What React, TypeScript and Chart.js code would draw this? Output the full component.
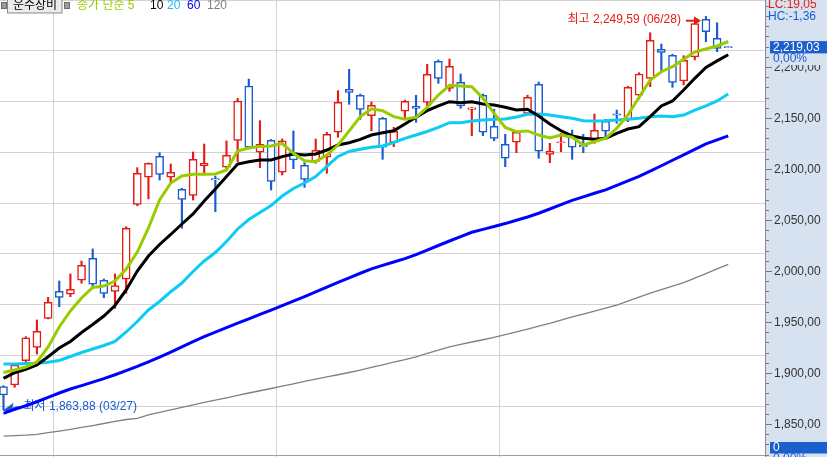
import React, { useEffect, useRef } from 'react';
import { Chart, registerables } from 'chart.js';

Chart.register(...registerables);

const W = 827;
const H = 457;

// ---- data ----
const sectorName = '운수장비';
const maPeriods = ['5', '10', '20', '60', '120'];

const opens = [1886.6, 1888.2, 1912.1, 1925.2, 1953.6, 1980.1, 1977.2, 1990.9, 2012.5, 1990.9,
  1980.1, 1991.9, 2065.4, 2091.9, 2112.5, 2091.9, 2080.1, 2074.2, 2103.2, 2090.5,
  2101.7, 2128.1, 2181.4, 2116.4, 2128.1, 2096.8, 2116, 2103.6, 2107.5, 2111.5,
  2136, 2178.1, 2172.3, 2152.3, 2149.7, 2126.2, 2156.6, 2161.5, 2165.4, 2205.6,
  2179.1, 2185, 2158.3, 2172.3, 2141.9, 2124.2, 2126.2, 2154.6, 2183, 2114.4,
  2125.8, 2131.7, 2123.2, 2128.4, 2146.8, 2154, 2148.7, 2172.3, 2188.9, 2217.4,
  2211.5, 2186.3, 2210, 2246.8, 2228.1, 2220.05];
const highs = [1887.5, 1909.5, 1935.6, 1952, 1974.2, 1990.2, 1997.1, 2009.8, 2021.6, 1992.2,
  1997.1, 2043.4, 2101.3, 2106, 2116, 2104.9, 2081.1, 2116.7, 2124.5, 2093.1,
  2127.5, 2169.3, 2188.2, 2147.4, 2129, 2129.4, 2137.3, 2106.2, 2129.4, 2136,
  2176.8, 2197.7, 2173.5, 2165.7, 2150.7, 2140.9, 2167.6, 2172.3, 2202.6, 2206.9,
  2207.8, 2193.1, 2160.4, 2173.5, 2158.5, 2134, 2137, 2172.3, 2185.3, 2125.2,
  2135, 2138.2, 2134, 2153.9, 2148.7, 2157.8, 2181, 2194.4, 2233.6, 2222.5,
  2212.5, 2211.1, 2243, 2249.59, 2243.4, 2220.05];
const lows = [1863.88, 1886, 1909.5, 1918.6, 1953, 1965, 1974.8, 1988, 1984.6, 1973.8,
  1963.4, 1978.1, 2064, 2070.6, 2089.2, 2086, 2041.9, 2069.6, 2094.1, 2058.1,
  2100, 2107.2, 2120, 2101.3, 2079.4, 2094.1, 2100.3, 2082, 2105.6, 2095.8,
  2131.1, 2163.4, 2148.7, 2137.5, 2109.5, 2121.9, 2148.7, 2145.8, 2156.2, 2184,
  2176.2, 2159.5, 2132.6, 2132.6, 2127.7, 2102.3, 2116, 2153.5, 2110.5, 2106.2,
  2117, 2109.5, 2116, 2125.2, 2130.1, 2144.8, 2146.4, 2168.6, 2180.7, 2196.4,
  2180.1, 2182.4, 2207, 2224.8, 2215, 2219.03];
const closes = [1878.4, 1907.8, 1934.6, 1940.9, 1969.3, 1974.2, 1982.1, 2005.6, 1987, 1978.1,
  1985.6, 2041.9, 2095.8, 2105.6, 2094.8, 2096.8, 2070.3, 2109.5, 2105.6, 2089.3,
  2113.4, 2166.7, 2121.3, 2124.2, 2087.9, 2127.7, 2108.8, 2089.9, 2118.3, 2134,
  2165.4, 2175.2, 2158.5, 2162.5, 2121.3, 2137, 2166.4, 2159.5, 2192.8, 2188.9,
  2200.7, 2161.8, 2160, 2136, 2130.1, 2110.5, 2136, 2170.3, 2117.4, 2117.4,
  2126.6, 2121.3, 2121.6, 2137.9, 2137, 2152.8, 2180.1, 2193.1, 2226.2, 2214.4,
  2185, 2206.6, 2242.5, 2234.6, 2218.3, 2219.03];

const ma5 = [1900.5, 1902.9, 1905.9, 1910.8, 1925.5, 1945.1, 1960.8, 1973.5, 1983.8, 1985.3,
  1990.2, 2002, 2018.6, 2042.2, 2069.6, 2086.3, 2093.1, 2094.8, 2094.8, 2095.1,
  2099, 2117.6, 2120.6, 2122.1, 2122.5, 2125, 2115.4, 2108.1, 2107.2, 2113.7,
  2123.5, 2137.3, 2151.3, 2159.1, 2157.2, 2151.3, 2148.7, 2150.7, 2160.5, 2172.5,
  2182.1, 2181.4, 2180.7, 2169.3, 2154.6, 2140.7, 2136.6, 2137.3, 2133.3, 2130.4,
  2133.3, 2131.1, 2123.5, 2126.8, 2130.1, 2139.9, 2152.9, 2170.3, 2187.3, 2195.4,
  2200.3, 2207.5, 2214.7, 2217.6, 2220.6, 2225];
const ma10 = [1894.8, 1900.3, 1903.6, 1907.8, 1916, 1924.5, 1930.9, 1939.7, 1947.5, 1955.9,
  1966.2, 1981.4, 2000, 2014.7, 2026, 2035.8, 2046.1, 2055.9, 2068.6, 2080.4,
  2092.6, 2104.9, 2107.2, 2108.8, 2108.8, 2112.1, 2114.7, 2113.7, 2114.7, 2118.6,
  2123.5, 2125.8, 2129.1, 2133.3, 2135.6, 2137.5, 2144.1, 2150.7, 2157.2, 2161.8,
  2166, 2165, 2166, 2163.7, 2162.7, 2160.5, 2157.8, 2158.5, 2152, 2144.1,
  2137.5, 2132.4, 2130.1, 2129.1, 2130.1, 2135, 2139.2, 2141.5, 2151.3, 2161.8,
  2166.7, 2177.5, 2188.9, 2199.5, 2206, 2212];
const ma20 = [1908.8, 1908.8, 1909.3, 1909.5, 1910.5, 1912.3, 1916.2, 1920.1, 1923.5, 1927,
  1930.9, 1940.2, 1950.5, 1961.8, 1970.1, 1979.7, 1988.2, 1999.5, 2009.8, 2018.1,
  2028.9, 2041.2, 2050.5, 2057.4, 2064.2, 2073.5, 2080.9, 2086.3, 2092.6, 2102.5,
  2112.3, 2117.2, 2119.3, 2121.4, 2122.5, 2126, 2130.1, 2133.3, 2136.8, 2140.9,
  2145.4, 2145.4, 2147.1, 2148, 2148.7, 2149, 2151, 2153.6, 2153.9, 2152.9,
  2151.3, 2149.7, 2147.4, 2147.1, 2147.4, 2148, 2148.7, 2149.7, 2151.3, 2152,
  2151.3, 2152.9, 2157.8, 2161.8, 2166.7, 2173.5];
const ma60 = [1860.5, 1864.3, 1867.9, 1871.8, 1876.1, 1880.4, 1884.3, 1887.6, 1891, 1894.5,
  1898.3, 1902.3, 1906.4, 1911, 1915.6, 1920.4, 1925.6, 1930.8, 1935.7, 1940.1,
  1944.5, 1948.8, 1953.1, 1957.4, 1961.7, 1966.1, 1970.4, 1974.9, 1979.6, 1984.3,
  1988.9, 1993.3, 1997.8, 2002.1, 2005.5, 2008.8, 2012.2, 2016, 2020.5, 2025,
  2029.4, 2033.8, 2038, 2040.8, 2043.6, 2046.5, 2049.8, 2053, 2056.6, 2060.8,
  2065, 2069.3, 2072.7, 2076.2, 2079.6, 2083.9, 2088.3, 2092.7, 2097.9, 2103.2,
  2108.6, 2113.8, 2119.2, 2124.6, 2128.6, 2132.4];
const ma120 = [1838.2, 1838.6, 1839, 1839.8, 1841.6, 1843.1, 1844.7, 1846.7, 1848.5, 1850.5,
  1852.5, 1854.4, 1855.6, 1859, 1861.5, 1863.9, 1866.3, 1868.7, 1871.1, 1873.3,
  1875.6, 1878.1, 1880.4, 1882.6, 1884.8, 1887.1, 1889.4, 1891.8, 1893.9, 1896.2,
  1898.3, 1900.5, 1902.9, 1905.5, 1908, 1910.6, 1913.1, 1915.9, 1919.2, 1922.5,
  1925.7, 1928, 1930.4, 1932.6, 1935, 1937.6, 1940.4, 1943.1, 1945.9, 1948.6,
  1951.9, 1955, 1957.8, 1960.7, 1963.6, 1966.6, 1970.5, 1974.3, 1978.2, 1981.7,
  1985.2, 1988.7, 1993.1, 1997.5, 2002, 2006.4];

const monthBreaks = [4.44, 24.44, 44.44];
const highDate = '06/28';
const lowDate = '03/27';
const lcValue = 19.05;
const hcValue = -1.36;
const changePct = 0.0;
const volumeValue = 0;

// ---- styling ----
const RED = '#e41c14';
const BLUE = '#1a5ccf';
const PANEL = '#d6e2f0';
const GRID = '#d3d3d3';
const BOX = '#1b5ecd';
const FONT = "'Liberation Sans', 'Noto Sans CJK KR', sans-serif";
const MA_COLORS = ['#99cc00', '#000000', '#0ccbf5', '#0000ff', '#808080'];
const MA_WIDTHS = [3, 3, 3, 3, 1.3];

const X_MIN = -0.314;
const X_MAX = 68.386;
const Y_MAX = 2265.69;
const Y_MIN = 1817.65;

const fmt = (n: number) => {
  const s = Math.abs(n).toFixed(2);
  const [a, b] = s.split('.');
  return (n < 0 ? '-' : '') + a.replace(/\B(?=(\d{3})+(?!\d))/g, ',') + ',' + b;
};

const candleColor = (i: number) => (closes[i] > opens[i] ? RED : BLUE);

const chromePlugin = {
  id: 'chrome',
  beforeDatasetsDraw(chart: any) {
    const { ctx } = chart;
    const x = chart.scales.x;
    const y = chart.scales.y;
    ctx.save();
    ctx.font = `12px ${FONT}`;
    ctx.textBaseline = 'middle';

    // highest
    const hv = Math.max(...highs);
    const hi = highs.indexOf(hv);
    const tip = x.getPixelForValue(hi) - 5;
    const ay = y.getPixelForValue(hv) + 4.3;
    ctx.fillStyle = RED;
    ctx.strokeStyle = RED;
    ctx.lineWidth = 2;
    ctx.beginPath();
    ctx.moveTo(tip - 15, ay);
    ctx.lineTo(tip - 5, ay);
    ctx.stroke();
    ctx.beginPath();
    ctx.moveTo(tip, ay);
    ctx.lineTo(tip - 7, ay - 4.5);
    ctx.lineTo(tip - 7, ay + 4.5);
    ctx.closePath();
    ctx.fill();
    ctx.textAlign = 'right';
    ctx.fillText(`최고 ${fmt(hv)} (${highDate})`, tip - 20, ay - 1);

    // lowest
    const lv = Math.min(...lows);
    const li = lows.indexOf(lv);
    const ltip = x.getPixelForValue(li) - 1;
    const ly = y.getPixelForValue(lv);
    ctx.fillStyle = BLUE;
    ctx.strokeStyle = BLUE;
    ctx.beginPath();
    ctx.moveTo(ltip + 5, ly);
    ctx.lineTo(ltip + 16, ly - 3);
    ctx.stroke();
    ctx.beginPath();
    ctx.moveTo(ltip, ly + 1);
    ctx.lineTo(ltip + 11, ly - 7);
    ctx.lineTo(ltip + 9, ly + 2);
    ctx.closePath();
    ctx.fill();
    ctx.textAlign = 'left';
    ctx.fillText(`최저 ${fmt(lv)} (${lowDate})`, ltip + 21, ly - 3);
    ctx.restore();
  },
  afterDraw(chart: any) {
    const { ctx } = chart;
    const y = chart.scales.y;
    const L = chart.chartArea.right;
    ctx.save();

    // bottom border line
    ctx.strokeStyle = '#a0a0a0';
    ctx.lineWidth = 1;
    ctx.beginPath();
    ctx.moveTo(0, H - 1.5);
    ctx.lineTo(L, H - 1.5);
    ctx.stroke();

    // right panel
    ctx.fillStyle = PANEL;
    ctx.fillRect(L, 0, W - L, H);
    ctx.strokeStyle = '#8c8c8c';
    ctx.beginPath();
    ctx.moveTo(L - 0.5, 0);
    ctx.lineTo(L - 0.5, H);
    ctx.stroke();

    ctx.font = `12px ${FONT}`;
    ctx.textBaseline = 'middle';
    ctx.textAlign = 'left';
    for (let v = Math.ceil(y.min / 10) * 10; v <= y.max; v += 10) {
      const py = Math.round(y.getPixelForValue(v)) + 0.5;
      const major = v % 50 === 0;
      ctx.strokeStyle = '#7a7a7a';
      ctx.beginPath();
      ctx.moveTo(L, py);
      ctx.lineTo(L + (major ? 6 : 3), py);
      ctx.stroke();
      if (major) {
        ctx.fillStyle = '#333333';
        ctx.fillText(fmt(v), L + 8, py);
      }
    }

    // LC / HC labels (cover axis labels underneath)
    ctx.fillStyle = PANEL;
    ctx.fillRect(L + 4, 0, W - L - 4, 23);
    ctx.fillStyle = RED;
    ctx.fillText(`LC:${fmt(lcValue)}`, L + 2, 5);
    ctx.fillStyle = BLUE;
    ctx.fillText(`HC:${fmt(hcValue)}`, L + 2, 16.5);

    // current price box
    const cur = closes[closes.length - 1];
    const cy = y.getPixelForValue(cur);
    ctx.fillStyle = BOX;
    ctx.fillRect(L + 4, cy - 6.5, W - L - 4, 12.5);
    ctx.fillStyle = '#ffffff';
    ctx.fillText(fmt(cur), L + 7, cy);
    ctx.fillStyle = PANEL;
    ctx.fillRect(L + 4, cy + 6, W - L - 4, 11.5);
    ctx.fillStyle = BLUE;
    ctx.fillText(`${fmt(changePct)}%`, L + 7, cy + 11.5);

    // bottom box
    ctx.fillStyle = BOX;
    ctx.fillRect(L + 4, 442, W - L - 4, 11.5);
    ctx.fillStyle = '#ffffff';
    ctx.fillText(String(volumeValue), L + 7, 447.5);
    ctx.fillStyle = BLUE;
    ctx.fillText(`${fmt(0)}%`, L + 7, 459);

    // header
    ctx.fillStyle = '#9a9a9a';
    ctx.fillRect(2, 3, 4, 5);
    ctx.strokeStyle = '#6e6e6e';
    ctx.strokeRect(1.5, 2.5, 5, 6);
    ctx.fillStyle = '#ececec';
    ctx.fillRect(7, -1, 55, 14);
    ctx.strokeStyle = '#8a8a8a';
    ctx.strokeRect(7.5, -0.5, 54.5, 13.5);
    ctx.fillStyle = '#000000';
    ctx.textAlign = 'center';
    ctx.fillText(sectorName, 35, 6);
    ctx.fillStyle = '#9a9a9a';
    ctx.fillRect(65, 3, 4, 5);
    ctx.strokeStyle = '#6e6e6e';
    ctx.strokeRect(64.5, 2.5, 5, 6);

    ctx.textAlign = 'left';
    const headerX = [77, 150, 167, 187, 207];
    maPeriods.forEach((p, k) => {
      ctx.fillStyle = k === 0 ? '#99cc00' : MA_COLORS[k] === '#0ccbf5' ? '#19b9f0' : MA_COLORS[k];
      ctx.fillText(k === 0 ? `종가 단순 ${p}` : p, headerX[k], 6);
    });
    ctx.restore();
  },
};

export default function App() {
  const ref = useRef<HTMLCanvasElement>(null);
  useEffect(() => {
    document.body.style.margin = '0';
    const canvas = ref.current as HTMLCanvasElement;
    const idx = closes.map((_, i) => i);
    const maSeries = [ma5, ma10, ma20, ma60, ma120];
    const lineSets = maSeries.map((arr, k) => ({
      type: 'line' as const,
      label: `MA${maPeriods[k]}`,
      data: arr.map((v, i) => ({ x: i, y: v })),
      borderColor: MA_COLORS[k],
      borderWidth: MA_WIDTHS[k],
      pointRadius: 0,
      tension: 0,
      fill: false,
      order: k + 1,
    }));
    const chart = new Chart(canvas, {
      type: 'bar',
      data: {
        datasets: [
          ...lineSets,
          {
            type: 'bar',
            label: 'body',
            data: idx.map((i) => ({ x: i, y: [opens[i], closes[i]] })),
            backgroundColor: '#ffffff',
            borderColor: (c: any) => candleColor(c.dataIndex),
            borderWidth: 1.5,
            borderSkipped: false,
            barThickness: 8,
            grouped: false,
            order: 10,
          } as any,
          {
            type: 'bar',
            label: 'wick',
            data: idx.map((i) => ({ x: i, y: [lows[i], highs[i]] })),
            backgroundColor: (c: any) => candleColor(c.dataIndex),
            borderWidth: 0,
            barThickness: 1.5,
            grouped: false,
            order: 20,
          } as any,
        ],
      },
      options: {
        animation: false,
        responsive: false,
        devicePixelRatio: 1,
        events: [],
        layout: { padding: 0 },
        plugins: { legend: { display: false }, tooltip: { enabled: false } },
        scales: {
          x: {
            type: 'linear',
            min: X_MIN,
            max: X_MAX,
            offset: false,
            ticks: { display: false },
            grid: { color: GRID, drawTicks: false, offset: false },
            border: { display: false },
            afterBuildTicks: (s: any) => {
              s.ticks = monthBreaks.map((v) => ({ value: v }));
            },
            afterFit: (s: any) => {
              s.height = 0;
            },
          },
          y: {
            position: 'right',
            min: Y_MIN,
            max: Y_MAX,
            ticks: { display: false, stepSize: 50, includeBounds: false },
            grid: { color: GRID, drawTicks: false },
            border: { display: false },
            afterFit: (s: any) => {
              s.width = 61;
            },
          },
        },
      } as any,
      plugins: [chromePlugin],
    });
    return () => chart.destroy();
  }, []);
  return (
    <div style={{ width: W, height: H, position: 'relative' }}>
      <canvas ref={ref} width={W} height={H} style={{ display: 'block', width: W, height: H }} />
    </div>
  );
}
